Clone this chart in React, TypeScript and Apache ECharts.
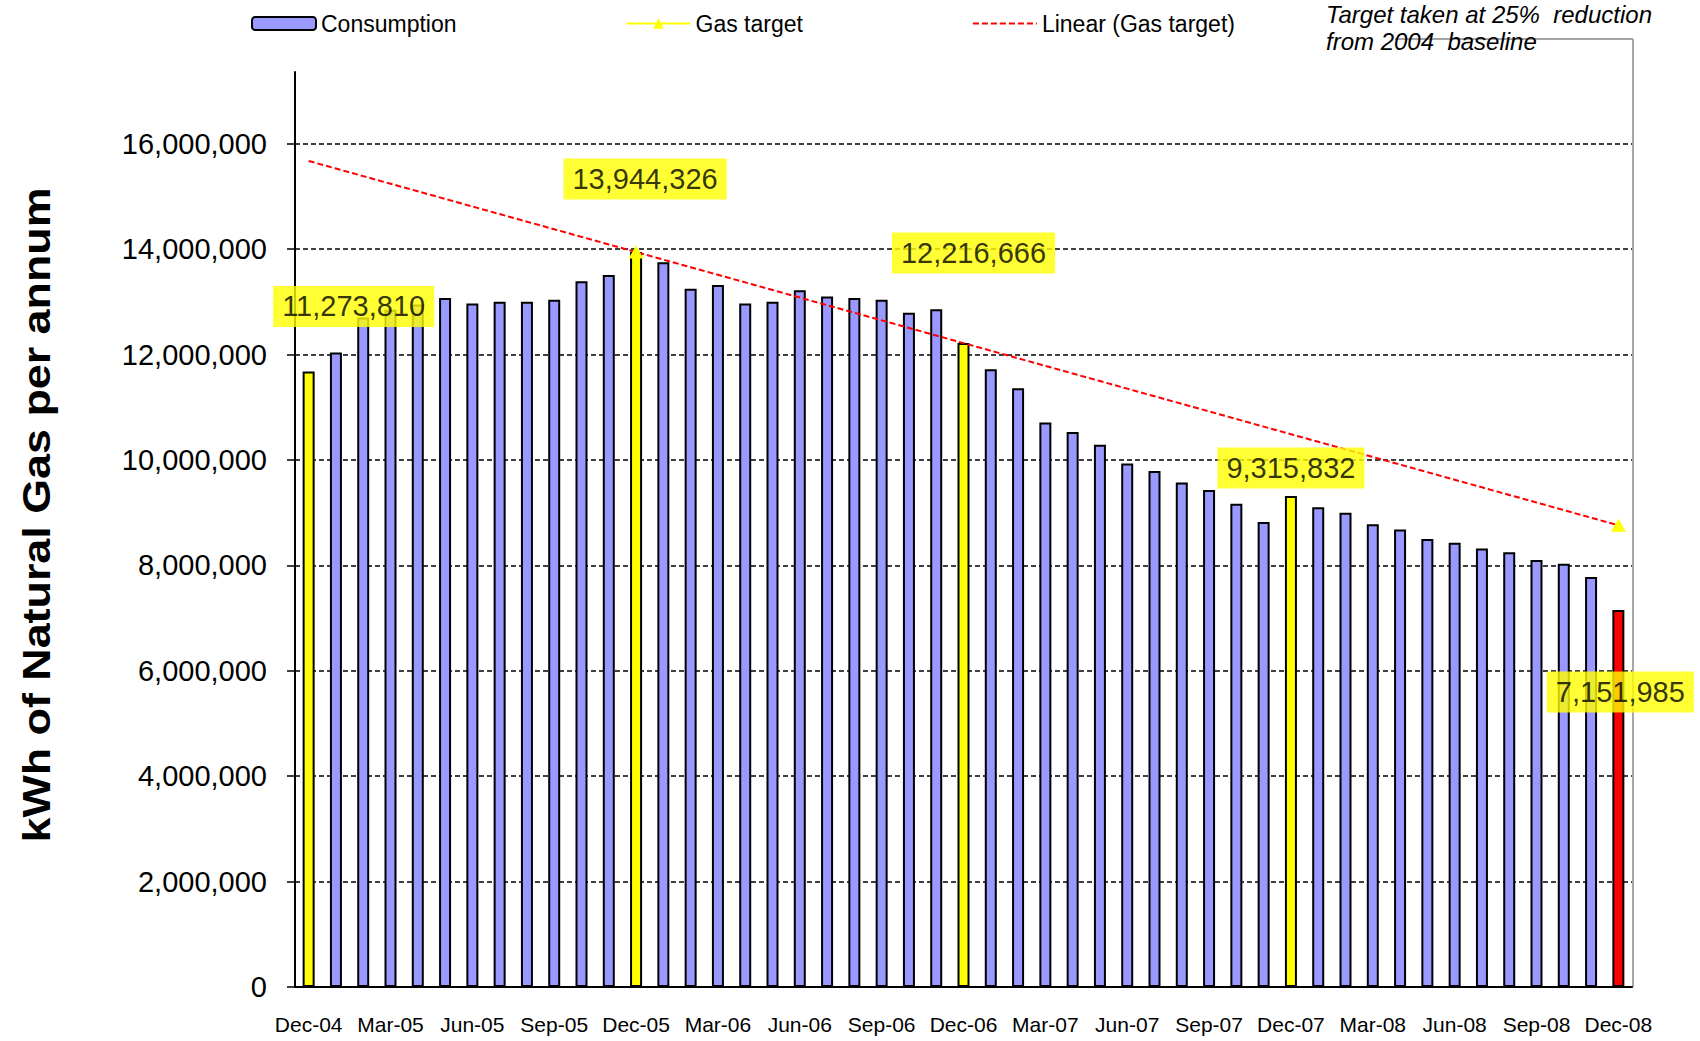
import React, { useEffect, useRef } from "react";
import * as echarts from "echarts";

const months = [
  "Dec-04", "Jan-05", "Feb-05", "Mar-05", "Apr-05", "May-05", "Jun-05", "Jul-05", "Aug-05", "Sep-05", "Oct-05", "Nov-05",
  "Dec-05", "Jan-06", "Feb-06", "Mar-06", "Apr-06", "May-06", "Jun-06", "Jul-06", "Aug-06", "Sep-06", "Oct-06", "Nov-06",
  "Dec-06", "Jan-07", "Feb-07", "Mar-07", "Apr-07", "May-07", "Jun-07", "Jul-07", "Aug-07", "Sep-07", "Oct-07", "Nov-07",
  "Dec-07", "Jan-08", "Feb-08", "Mar-08", "Apr-08", "May-08", "Jun-08", "Jul-08", "Aug-08", "Sep-08", "Oct-08", "Nov-08",
  "Dec-08",
];

const consumption = [
  11680000, 12040000, 12700000, 12850000, 12950000, 13070000, 12970000, 13000000, 13000000, 13040000, 13390000, 13510000,
  13944326, 13750000, 13250000, 13320000, 12970000, 13000000, 13220000, 13100000, 13070000, 13040000, 12790000, 12860000,
  12216666, 11720000, 11360000, 10710000, 10530000, 10290000, 9930000, 9790000, 9570000, 9430000, 9170000, 8820000,
  9315832, 9100000, 9000000, 8780000, 8680000, 8500000, 8430000, 8320000, 8250000, 8100000, 8030000, 7780000,
  7151985,
];

// Gas target points (only two months carry a target)
const gasTargetMonths = ["Dec-05", "Dec-08"];
const gasTargetValues = [13944326, 8760000];

const yellowMonths = ["Dec-04", "Dec-05", "Dec-06", "Dec-07"];
const redMonths = ["Dec-08"];

const annotationMonths = ["Dec-04", "Dec-05", "Dec-06", "Dec-07", "Dec-08"];
const annotationValues = [11273810, 13944326, 12216666, 9315832, 7151985];
const annotationOffsets = [
  [45, -65],
  [9, -73],
  [10, -90],
  [0, -28],
  [2, 82],
];

const yTicks = { min: 0, max: 17360000, interval: 2000000 };

const FONT = "'Liberation Sans', Arial, Helvetica, sans-serif";

function fmt(v: number) {
  return Math.round(v).toLocaleString("en-US");
}

export default function App() {
  const ref = useRef<HTMLDivElement>(null);

  useEffect(() => {
    if (!ref.current) return;
    const chart = echarts.init(ref.current, undefined, { renderer: "svg" });

    const gasTarget = months.map((m) => {
      const i = gasTargetMonths.indexOf(m);
      return i >= 0 ? gasTargetValues[i] : null;
    });

    // Linear trendline (least squares) through the gas target points
    const pts = gasTargetMonths.map((m, i) => [months.indexOf(m), gasTargetValues[i]]);
    const n = pts.length;
    const mx = pts.reduce((s, p) => s + p[0], 0) / n;
    const my = pts.reduce((s, p) => s + p[1], 0) / n;
    let sxy = 0;
    let sxx = 0;
    pts.forEach((p) => {
      sxy += (p[0] - mx) * (p[1] - my);
      sxx += (p[0] - mx) * (p[0] - mx);
    });
    const slope = sxy / sxx;
    const intercept = my - slope * mx;
    const trend = months.map((_, i) => intercept + slope * i);

    const barData = consumption.map((v, i) => {
      const m = months[i];
      let color = "#9999FF";
      if (yellowMonths.includes(m)) color = "#FFFF00";
      if (redMonths.includes(m)) color = "#FF0000";
      return { value: v, itemStyle: { color } };
    });

    const labelData = annotationMonths.map((m, k) => {
      const idx = months.indexOf(m);
      return {
        value: [idx, consumption[idx]],
        name: fmt(annotationValues[k]),
        label: { offset: annotationOffsets[k] },
      };
    });

    const option: any = {
      animation: false,
      backgroundColor: "#ffffff",
      grid: { left: 295, right: 68, top: 72, bottom: 54, containLabel: false },
      legend: {
        data: [
          { name: "Consumption" },
          { name: "Gas target" },
          { name: "Linear (Gas target)", itemStyle: { opacity: 0 } },
        ],
        left: 246,
        top: 7,
        itemWidth: 64,
        itemHeight: 13,
        itemGap: 169,
        textStyle: { fontSize: 23, color: "#000", fontFamily: FONT },
      },
      xAxis: {
        type: "category",
        data: months,
        boundaryGap: true,
        axisLine: { lineStyle: { color: "#000", width: 2 } },
        axisTick: { interval: 2, length: 8, lineStyle: { color: "#000", width: 1.5 } },
        axisLabel: { interval: 2, fontSize: 21, color: "#000", margin: 27, fontFamily: FONT },
        splitLine: { show: false },
      },
      yAxis: {
        type: "value",
        min: yTicks.min,
        max: yTicks.max,
        interval: yTicks.interval,
        axisLine: { show: true, lineStyle: { color: "#000", width: 2 } },
        axisTick: { show: true, length: 8, lineStyle: { color: "#000", width: 1.5 } },
        axisLabel: {
          formatter: (v: number) => fmt(v),
          showMaxLabel: false,
          fontSize: 29,
          color: "#000",
          margin: 28,
          fontFamily: FONT,
        },
        splitLine: {
          show: true,
          showMinLine: false,
          showMaxLine: false,
          lineStyle: { color: "#000", type: [5, 3], width: 1.5 },
        },
      },
      series: [
        {
          name: "Consumption",
          type: "bar",
          data: barData,
          barWidth: 12,
          itemStyle: { color: "#9999FF", borderColor: "#000", borderWidth: 2 },
          z: 2,
        },
        {
          name: "Linear (Gas target)",
          type: "line",
          data: trend,
          showSymbol: false,
          symbol: "none",
          lineStyle: { color: "#FF0000", width: 2, type: [6, 3] },
          itemStyle: { color: "#FF0000" },
          z: 3,
        },
        {
          name: "Gas target",
          type: "line",
          data: gasTarget,
          connectNulls: false,
          symbol: "triangle",
          symbolSize: [15, 13],
          showAllSymbol: true,
          lineStyle: { color: "#FFFF00", width: 2 },
          itemStyle: { color: "#FFFF00" },
          z: 4,
        },
        {
          name: "labels",
          type: "scatter",
          data: labelData,
          symbolSize: 0,
          silent: true,
          z: 10,
          label: {
            show: true,
            position: "inside",
            formatter: (p: any) => p.name,
            backgroundColor: "#FFFF00",
            padding: [6, 9],
            fontSize: 29,
            lineHeight: 29,
            color: "#000",
            fontFamily: FONT,
          },
        },
      ],
      graphic: [
        {
          type: "line",
          shape: { x1: 1395, y1: 39, x2: 1633, y2: 39 },
          style: { stroke: "#a6a6a6", lineWidth: 2 },
          silent: true,
        },
        {
          type: "line",
          shape: { x1: 1633, y1: 39, x2: 1633, y2: 987 },
          style: { stroke: "#a6a6a6", lineWidth: 2 },
          silent: true,
        },
        {
          type: "text",
          left: 1326,
          top: 1,
          style: {
            text: "Target taken at 25%  reduction\nfrom 2004  baseline",
            font: `italic 24px ${FONT}`,
            lineHeight: 27,
            fill: "#000",
          },
          silent: true,
        },
        {
          type: "text",
          x: 37,
          y: 515,
          rotation: Math.PI / 2,
          scaleX: 1.18,
          style: {
            text: "kWh of Natural Gas per annum",
            font: `bold 38px ${FONT}`,
            fill: "#000",
            align: "center",
            verticalAlign: "middle",
          },
          silent: true,
        },
      ],
    };

    chart.setOption(option);
    return () => chart.dispose();
  }, []);

  return (
    <div
      ref={ref}
      style={{ position: "fixed", left: 0, top: 0, width: 1700, height: 1041, background: "#fff" }}
    />
  );
}
